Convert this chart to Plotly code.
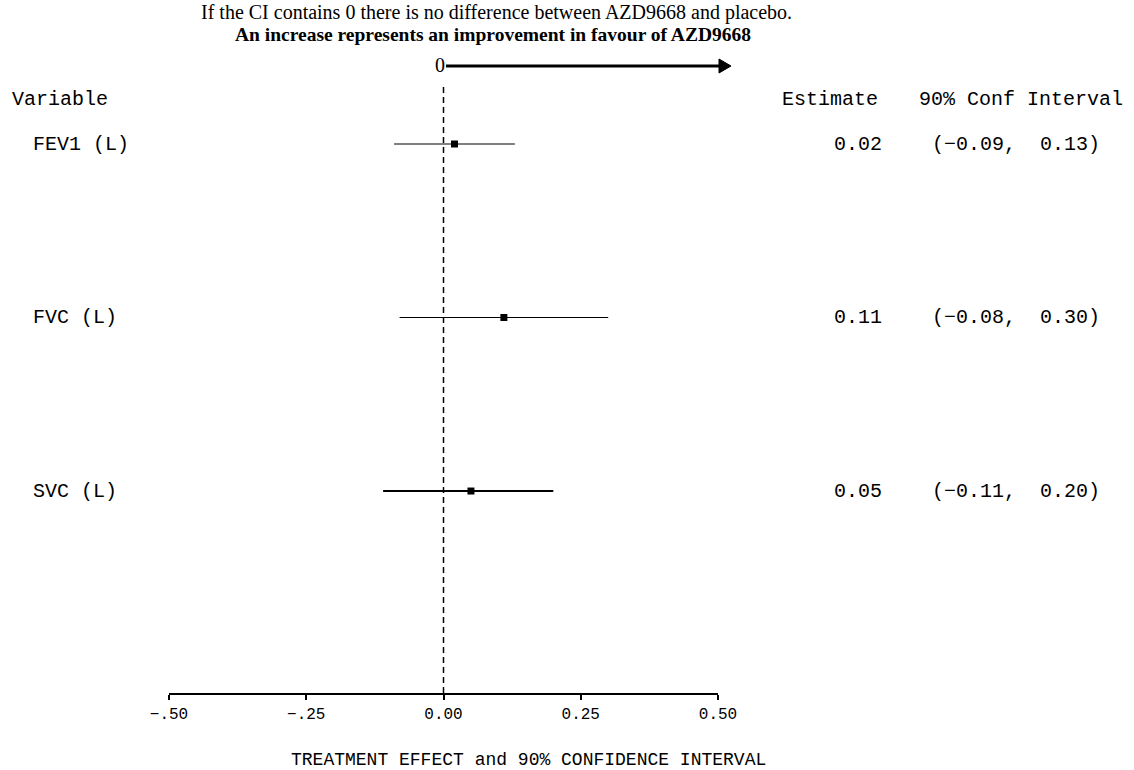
import plotly.graph_objects as go

variables = ["FEV1 (L)", "FVC (L)", "SVC (L)"]
estimates = [0.02, 0.11, 0.05]
lower = [-0.09, -0.08, -0.11]
upper = [0.13, 0.30, 0.20]
est_text = ["0.02", "0.11", "0.05"]
ci_text = ["(\u22120.09,  0.13)", "(\u22120.08,  0.30)", "(\u22120.11,  0.20)"]
tick_vals = [-0.5, -0.25, 0.0, 0.25, 0.5]
tick_text = ["\u2212.50", "\u2212.25", "0.00", "0.25", "0.50"]

line_widths = [1.2, 1.2, 2]
SAS = "Liberation Mono"
TIMES = "Liberation Serif"
LBL = 20

fig = go.Figure()
for i, v in enumerate(variables):
    fig.add_trace(go.Scatter(
        x=[estimates[i]], y=[i], mode="markers",
        marker=dict(symbol="square", size=7, color="black"),
        error_x=dict(type="data", symmetric=False,
                     array=[upper[i] - estimates[i]],
                     arrayminus=[estimates[i] - lower[i]],
                     color="black", thickness=line_widths[i], width=0),
        showlegend=False, hoverinfo="skip"))

def px(x):
    return (x - 169) / 549
def py(y):
    return (693 - y) / 608

fig.add_shape(type="line", xref="x", yref="paper", x0=0, x1=0, y0=0, y1=1,
              line=dict(color="black", width=1.5, dash="6px,4px"))

# direction arrow (paper coordinates so it is not clipped)
ay = py(66)
fig.add_shape(type="line", xref="paper", yref="paper", x0=px(446), x1=px(721), y0=ay, y1=ay,
              line=dict(color="black", width=3))
fig.add_shape(type="path", xref="paper", yref="paper",
              path=f"M {px(719)},{ay + 7/608} L {px(731)},{ay} L {px(719)},{ay - 7/608} Z",
              fillcolor="black", line=dict(color="black", width=1))

ann = []
ann.append(dict(text="Variable", xref="paper", yref="paper", x=px(10), y=py(99),
                xanchor="left", yanchor="middle", showarrow=False, font=dict(family=SAS, size=LBL)))
ann.append(dict(text="Estimate", xref="paper", yref="paper", x=px(880), y=py(99),
                xanchor="right", yanchor="middle", showarrow=False, font=dict(family=SAS, size=LBL)))
ann.append(dict(text="90% Conf Interval", xref="paper", yref="paper", x=px(1021), y=py(99),
                xanchor="center", yanchor="middle", showarrow=False, font=dict(family=SAS, size=LBL)))
for i, v in enumerate(variables):
    ann.append(dict(text=v, xref="paper", yref="y", x=px(31), y=i, xanchor="left", yanchor="middle",
                    showarrow=False, font=dict(family=SAS, size=LBL)))
    ann.append(dict(text=est_text[i], xref="paper", yref="y", x=px(884), y=i, xanchor="right",
                    yanchor="middle", showarrow=False, font=dict(family=SAS, size=LBL)))
    ann.append(dict(text=ci_text[i], xref="paper", yref="y", x=px(1016), y=i, xanchor="center",
                    yanchor="middle", showarrow=False, font=dict(family=SAS, size=LBL)))

ann.append(dict(text="TREATMENT EFFECT and 90% CONFIDENCE INTERVAL", xref="paper", yref="paper",
                x=px(528), y=py(760), xanchor="center", yanchor="middle", showarrow=False,
                font=dict(family=SAS, size=18)))
ann.append(dict(text="If the CI contains 0 there is no difference between AZD9668 and placebo.",
                xref="paper", yref="paper", x=px(496), y=py(13), xanchor="center", yanchor="middle",
                showarrow=False, font=dict(family=TIMES, size=20)))
ann.append(dict(text="<b>An increase represents an improvement in favour of AZD9668</b>",
                xref="paper", yref="paper", x=px(493), y=py(34), xanchor="center", yanchor="middle",
                showarrow=False, font=dict(family=TIMES, size=19.5)))
ann.append(dict(text="0", xref="paper", yref="paper", x=px(440), y=py(65), xanchor="center", yanchor="middle",
                showarrow=False, font=dict(family=TIMES, size=20)))

fig.update_layout(
    width=1134, height=770,
    margin=dict(l=169, r=416, t=85, b=77),
    paper_bgcolor="white", plot_bgcolor="white",
    annotations=ann,
    xaxis=dict(range=[-0.5, 0.5], tickvals=tick_vals, ticktext=tick_text,
               showline=True, linecolor="black", linewidth=1.5, ticks="outside",
               ticklen=5, tickwidth=1.5, tickcolor="black", showgrid=False, zeroline=False,
               tickfont=dict(family=SAS, size=16, color="black")),
    yaxis=dict(range=[3.164, -0.34], visible=False, showgrid=False, zeroline=False),
    font=dict(color="black"),
)

fig.write_html("out.html", config={"displayModeBar": False},
               post_script="document.body.style.margin='0';")
